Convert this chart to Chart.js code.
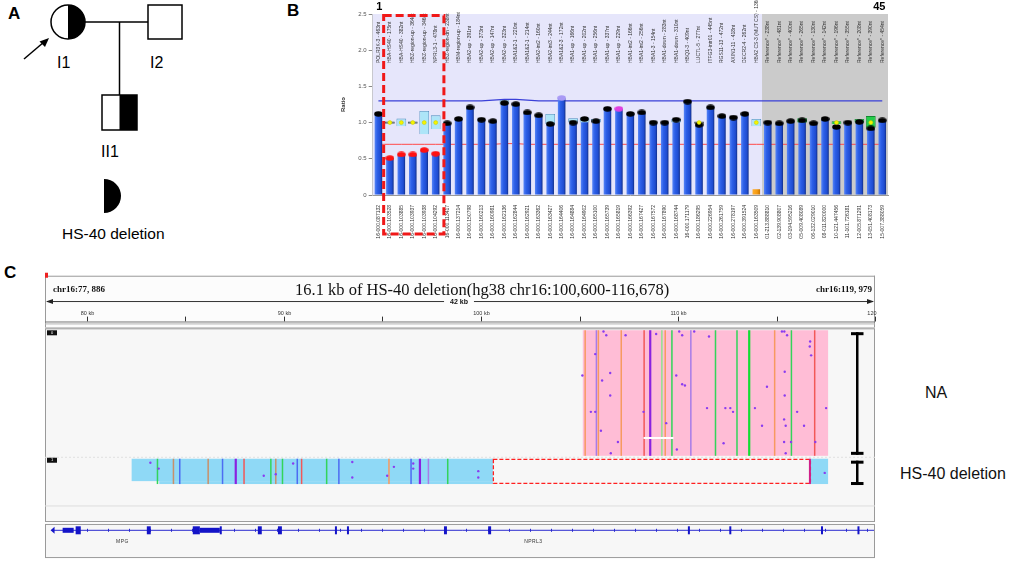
<!DOCTYPE html>
<html><head><meta charset="utf-8">
<script src="https://cdn.jsdelivr.net/npm/chart.js@4.4.1/dist/chart.umd.min.js"></script>
<style>
html,body{margin:0;padding:0;background:#fff;width:1024px;height:563px;overflow:hidden;font-family:"Liberation Sans",Arial,sans-serif;}
.abs{position:absolute;}
.panel{font-weight:bold;font-size:17px;color:#000;}
.lbl{font-size:16px;color:#111;}
</style></head><body>
<div class="abs panel" style="left:8px;top:4px">A</div>
<div class="abs panel" style="left:287px;top:1px">B</div>
<div class="abs panel" style="left:4px;top:263px">C</div>
<svg class="abs" style="left:0;top:0" width="290" height="250" font-family="Liberation Sans, Arial, sans-serif">
  <line x1="85" y1="22" x2="148" y2="22" stroke="#000" stroke-width="1.5"/>
  <line x1="119.5" y1="22" x2="119.5" y2="95" stroke="#000" stroke-width="1.5"/>
  <circle cx="68" cy="22" r="17" fill="#fff" stroke="#000" stroke-width="1.5"/>
  <path d="M68,5 A17,17 0 0,1 68,39 Z" fill="#000"/>
  <rect x="148" y="5" width="34" height="34" fill="#fff" stroke="#000" stroke-width="1.5"/>
  <rect x="102" y="95" width="35" height="35" fill="#fff" stroke="#000" stroke-width="1.5"/>
  <rect x="119.5" y="95" width="17.5" height="35" fill="#000"/>
  <line x1="24" y1="59" x2="44" y2="42" stroke="#000" stroke-width="1.5"/>
  <path d="M49,38 L39.5,41.5 L45,47 Z" fill="#000"/>
  <text x="57" y="68" font-size="16">I1</text>
  <text x="150" y="68" font-size="16">I2</text>
  <text x="101" y="157" font-size="16">II1</text>
  <path d="M104,179 A17,17 0 0,1 104,213 Z" fill="#000"/>
  <text x="62" y="239" font-size="15.5">HS-40 deletion</text>
</svg>
<canvas id="mlpa" class="abs" style="left:330px;top:0" width="570" height="240"></canvas>
<canvas id="igv" class="abs" style="left:40px;top:262px" width="840" height="301"></canvas>
<div class="abs lbl" style="left:925px;top:384px">NA</div>
<div class="abs lbl" style="left:900px;top:465px">HS-40 deletion</div>
<script>
// ---------------- Panel B data (MLPA ratios) ----------------
const probeNames = ["POLR3K-3 - 463nt","HBA-HS40 - 175nt","HBA-HS40 - 382nt","HBZ-region-up - 364nt","HBZ-region-up - 346nt","NPRL3-1 - 478nt","HBZ-region-dn - 238nt","HBM-region-up - 184nt","HBA2-up - 391nt","HBA2-up - 373nt","HBA2-up - 147nt","HBA2-up - 323nt","HBA1&2-1 - 220nt","HBA1&2-1 - 214nt","HBA2-int2 - 160nt","HBA2-int3 - 244nt","HBA1&2-3 - 172nt","HBA1-up - 166nt","HBA1-up - 202nt","HBA1-up - 256nt","HBA1-up - 337nt","HBA1-up - 229nt","HBA1-int2 - 166nt","HBA1-int2 - 256nt","HBA1-3 - 154nt","HBA1-down - 283nt","HBA1-down - 310nt","HBQ1-3 - 409nt","LUC7L-5 - 277nt","ITFG3-intr01 - 445nt","RGS11-13 - 472nt","AXIN1-11 - 418nt","DECR2-4 - 262nt","HBA2 CS-3 (MUT CS) - 136nt","Reference* - 238nt","Reference* - 481nt","Reference* - 400nt","Reference* - 265nt","Reference* - 130nt","Reference* - 142nt","Reference* - 196nt","Reference* - 355nt","Reference* - 208nt","Reference* - 390nt","Reference* - 454nt"];
const probeCoords = ["16-000.087132","16-000.103528","16-000.103885","16-000.103937","16-000.103938","16-000.104292","16-000.113417","16-000.137214","16-000.150798","16-000.160213","16-000.160981","16-000.162136","16-000.162844","16-000.162921","16-000.163362","16-000.163427","16-000.164406","16-000.164884","16-000.164902","16-000.165100","16-000.165739","16-000.165819","16-000.166392","16-000.167427","16-000.167572","16-000.167890","16-000.168744","16-000.171179","16-000.186295","16-000.226954","16-000.261759","16-000.278197","16-000.391524","16-000.163509","01-213.888810","02-139.908807","03-194.595216","05-009.408089","06-132.029010","08-011.820000","10-121.447456","11-101.726181","12-005.871291","13-051.408173","15-007.388059"];
const ratios = [1.12,0.51,0.56,0.56,0.62,0.57,0.99,1.05,1.21,1.04,1.02,1.27,1.255,1.14,1.10,0.98,1.34,1.00,1.05,1.02,1.19,1.19,1.12,1.14,1.00,1.00,1.04,1.29,0.97,1.21,1.09,1.07,1.12,0.08,1.00,0.99,1.02,1.03,0.99,1.05,0.94,1.00,1.01,0.92,1.03];
const probeFlag = ["n","del","del","del","del","del","n","n","n","n","n","n","n","n","n","n","high","n","n","n","n","mut","n","n","n","n","n","n","n","n","n","n","n","none","n","n","n","n","n","n","n","n","n","n","n"];
const upperLimit = [1.30,1.30,1.30,1.30,1.30,1.30,1.30,1.30,1.30,1.30,1.31,1.32,1.32,1.31,1.30,1.30,1.30,1.30,1.30,1.30,1.30,1.30,1.30,1.30,1.30,1.30,1.30,1.30,1.30,1.30,1.30,1.30,1.30,1.30,1.30,1.30,1.30,1.30,1.30,1.30,1.30,1.30,1.30,1.30,1.30];
const lowerLimit = [0.70,0.70,0.70,0.70,0.70,0.70,0.70,0.70,0.70,0.70,0.70,0.71,0.71,0.70,0.70,0.70,0.70,0.70,0.70,0.70,0.70,0.70,0.70,0.70,0.70,0.70,0.70,0.70,0.70,0.70,0.70,0.70,0.70,0.70,0.70,0.70,0.70,0.70,0.70,0.70,0.70,0.70,0.70,0.70,0.70];
const rangeLow  = [null,0.985,0.95,0.985,0.84,0.91,null,null,null,null,null,1.25,null,null,null,0.98,null,1.00,1.00,1.00,null,null,null,null,null,null,1.00,null,0.985,null,null,null,null,0.95,null,null,null,1.00,0.985,null,0.98,null,1.00,0.93,null];
const rangeHigh = [null,1.015,1.055,1.015,1.16,1.10,null,null,null,null,null,1.31,null,null,null,1.12,null,1.06,1.07,1.05,null,null,null,null,null,null,1.05,null,1.015,null,null,null,null,1.05,null,null,null,1.06,1.015,null,1.02,null,1.05,1.09,null];
const rangeKind = [null,"tight","sample","tight","sample","sample",null,null,null,null,null,"sample",null,null,null,"sample",null,"sample","sample","sample",null,null,null,null,null,null,"sample",null,"tight",null,null,null,null,"sample",null,null,null,"ref","tight",null,"ref",null,"ref","ref",null];
const rangeMedian = [null,1,1,1,1,1,null,null,null,null,null,null,null,null,null,null,null,null,null,null,null,null,null,null,null,null,null,null,1,null,null,null,null,1,null,null,null,null,null,null,1,null,null,1,null];
const firstProbeLabel = "1", lastProbeLabel = "45";
const referenceStart = 34;
const deletedFrom = 1, deletedTo = 5;

function capImg(color){
  const c=document.createElement('canvas'); c.width=9; c.height=6;
  const x=c.getContext('2d'); x.fillStyle=color; x.beginPath();
  x.ellipse(4.5,3,4.3,2.7,0,0,Math.PI*2); x.fill(); return c;
}
const caps = {n:capImg('#000'), del:capImg('#ff1010'), high:capImg('#a99af5'), mut:capImg('#e040e0'), none:capImg('rgba(0,0,0,0)')};
const rangeFill = {tight:'#56656b', sample:'#ade5f8', ref:'#25cc4a'};
const rangeBorder = {tight:'#3b474b', sample:'#4f8fbf', ref:'#128a30'};

const mlpaPlugin = {
  id:'mlpaDeco',
  beforeDatasetsDraw(chart){
    const {ctx, chartArea:a, scales:{x}} = chart;
    const split = (x.getPixelForValue(referenceStart-1)+x.getPixelForValue(referenceStart))/2;
    ctx.save();
    ctx.fillStyle='#e6e6fb'; ctx.fillRect(a.left,a.top,split-a.left,a.bottom-a.top);
    ctx.fillStyle='#cbcbcb'; ctx.fillRect(split,a.top,a.right-split,a.bottom-a.top);
    ctx.fillStyle='#333'; ctx.font='5px "Liberation Sans"';
    ctx.textBaseline='middle'; ctx.textAlign='left';
    probeNames.forEach((n,i)=>{
      ctx.save(); ctx.translate(x.getPixelForValue(i), a.top+49); ctx.rotate(-Math.PI/2);
      ctx.fillText(n,0,0); ctx.restore();
    });
    ctx.restore();
  },
  afterDraw(chart){
    const {ctx, chartArea:a, scales:{x}} = chart;
    const cw = x.getPixelForValue(1)-x.getPixelForValue(0);
    ctx.save();
    ctx.fillStyle='#000'; ctx.font='bold 11px "Liberation Sans"'; ctx.textAlign='center'; ctx.textBaseline='middle';
    ctx.fillText(firstProbeLabel, x.getPixelForValue(0)+1, 7);
    ctx.fillText(lastProbeLabel, x.getPixelForValue(probeNames.length-1)-3, 7);
    const l = x.getPixelForValue(deletedFrom)-cw/2-0.5, r = x.getPixelForValue(deletedTo)+cw/2+2.5;
    ctx.strokeStyle='#f01818'; ctx.lineWidth=3; ctx.setLineDash([8,4]);
    ctx.strokeRect(l, a.top+1.5, r-l, 232.5-a.top);
    ctx.restore();
  }
};

function barColor(c){
  const xs=c.chart.scales.x;
  const orange = probeFlag[c.dataIndex]==='none';
  if(!xs || c.type!=='data') return orange?'#f59a10':'#2458e6';
  const px=xs.getPixelForValue(c.dataIndex);
  if(!isFinite(px)) return orange?'#f59a10':'#2458e6';
  const g=c.chart.ctx.createLinearGradient(px-4,0,px+4,0);
  if(orange){
    g.addColorStop(0,'#ffb030'); g.addColorStop(0.6,'#f59a10'); g.addColorStop(1,'#c07000'); return g;
  }
  g.addColorStop(0,'#5a88f7'); g.addColorStop(0.35,'#2c5fe8'); g.addColorStop(0.75,'#1f4cd0'); g.addColorStop(1,'#0f2a80');
  return g;
}

new Chart(document.getElementById('mlpa'), {
  type:'bar',
  data:{
    labels: probeCoords,
    datasets:[
      {type:'line', data: rangeMedian, showLine:false, pointRadius:2, pointBackgroundColor:'#f4f400', pointBorderColor:'#c8c800', pointBorderWidth:0.5, order:0},
      {type:'line', data: ratios.map((v,i)=>probeFlag[i]==='none'?null:v), showLine:false, pointStyle: c=>caps[probeFlag[c.dataIndex]]||caps.n, pointRadius:4, order:1},
      {type:'bar', data: rangeLow.map((v,i)=>v===null?null:[v,rangeHigh[i]]), grouped:false, barPercentage:0.85, categoryPercentage:1,
        backgroundColor: c=>rangeFill[rangeKind[c.dataIndex]]||'#ade5f8', borderColor: c=>rangeBorder[rangeKind[c.dataIndex]]||'#4f8fbf', borderWidth:0.8, order:2},
      {type:'bar', data: ratios, grouped:false, barPercentage:0.66, categoryPercentage:1, backgroundColor: barColor, order:3},
      {type:'line', data: upperLimit, borderColor:'#3a40d8', borderWidth:1.2, pointRadius:0, tension:0, order:4},
      {type:'line', data: lowerLimit, borderColor:'#ff4a4a', borderWidth:1, pointRadius:0, tension:0, order:5}
    ]
  },
  options:{
    responsive:false, animation:false, events:[],
    layout:{padding:{top:14,right:12,left:10,bottom:0}},
    plugins:{legend:{display:false}, tooltip:{enabled:false}},
    scales:{
      x:{offset:true, grid:{display:false}, border:{color:'#999'},
         ticks:{autoSkip:false, minRotation:90, maxRotation:90, font:{size:5, family:'Liberation Sans'}, color:'#333', padding:2},
         afterFit(s){ s.height=45; }},
      y:{min:0, max:2.5, ticks:{stepSize:0.5, font:{size:6, family:'Liberation Sans'}, color:'#555', padding:2},
         grid:{drawOnChartArea:false, tickLength:4, color:'#888'}, border:{color:'#bbb'},
         title:{display:true, text:'Ratio', font:{size:6, weight:'bold', family:'Liberation Sans'}, color:'#333', padding:0},
         afterFit(s){ s.width=32.7; }}
    }
  },
  plugins:[mlpaPlugin]
});

// ---------------- Panel C data (IGV view, kb on chr16) ----------------
const viewStartKb = 77.886, viewEndKb = 119.979;
const viewStartLabel = "chr16:77, 886", viewEndLabel = "chr16:119, 979";
const viewTitle = "16.1 kb of HS-40 deletion(hg38 chr16:100,600-116,678)";
const spanLabel = "42 kb";
const rulerMajorKb = [80,90,100,110,120];
const rulerMajorLabel = ["80 kb","90 kb","100 kb","110 kb","120"];
const rulerMinorKb = [85,95,105,115];
const naReadsKb = [105.16,117.60];
const naGapKb = [108.24,109.76], naGapDepth = 0.85;
const naMismatchKb = [105.28,105.85,105.95,107.11,108.27,108.58,109.17,109.34,109.68,110.64,111.89,112.98,113.60,114.89,115.74,116.92];
const naMismatchBase = ["o","p","o","o","r","P","g","o","G","p","G","G","B","o","G","r"];
const naDotKb = [106.21,106.35,107.33,108.88,110.05,110.20,110.81,111.56,115.26,115.38,115.52,116.69,116.67,116.74,105.79,105.14,106.14,106.55,106.55,109.90,110.20,110.34,111.46,112.39,112.64,112.78,113.89,114.50,115.40,115.40,116.03,117.50,105.57,105.79,108.24,109.39,106.08,106.94,106.58,109.93,112.30,114.25,115.37,115.45,116.38,115.37,115.72,115.45,116.95];
const naDotDepth = [0.01,0.04,0.04,0.03,0.01,0.04,0.01,0.05,0.01,0.01,0.04,0.09,0.13,0.20,0.19,0.36,0.40,0.34,0.52,0.36,0.43,0.44,0.62,0.62,0.62,0.65,0.62,0.45,0.33,0.52,0.65,0.62,0.65,0.65,0.65,0.74,0.80,0.89,0.98,0.95,0.90,0.76,0.71,0.76,0.76,0.89,0.89,0.98,0.89];
const delReadsKb = [[82.28,100.60],[116.678,117.60]];
const deletionKb = [100.600,116.678];
const delMismatchKb = [83.59,84.40,84.72,86.16,86.89,87.56,87.98,89.34,89.59,89.93,90.68,90.90,92.17,92.79,95.33,96.45,96.90,97.33,98.31];
const delMismatchBase = ["G","t","b","t","b","P","r","G","t","G","b","r","G","b","o","b","P","p","G"];
const delDotKb = [83.23,83.65,88.98,89.59,90.47,93.47,93.47,95.58,95.24,96.56,96.56,99.86,99.86,117.43];
const delDotDepth = [0.16,0.39,0.67,0.61,0.19,0.13,0.74,0.32,0.67,0.19,0.39,0.49,0.74,0.56];
const geneNames = ["MPG","NPRL3"], geneLabelKb = [81.8,102.64];
const exonKb = [[78.78,79.34],[79.44,79.70],[83.05,83.25],[85.38,85.74],[85.74,86.75],[86.75,86.85],[88.68,88.88],[89.70,89.90],[92.59,92.69],[93.20,93.30],[98.12,98.27],[100.36,100.51],[110.49,110.56],[112.59,112.69],[117.24,117.31],[119.09,119.19]];
const exonKind = ["utr","cds","cds","cds","utr","cds","cds","cds","cds","cds","cds","cds","cds","cds","cds","cds"];
const geneStartKb = 78.22;

const baseColor = {o:'#f79a60', p:'#a77ce8', P:'#8a22e0', r:'#f25858', g:'#8fe38f', G:'#33d45a', B:'#12dd33', t:'#c8906a', b:'#4d6cf2'};
const L = {frameTop:10, headerY:24, spanY:36, rulerLbl:49, tickTop:52, rulerBase:57, sepA:59, sepB:63, alignTop:64, naTop:66, naBot:195, trackSep:196, delTop:198, delBot:224, alignLine:246, alignBot:262, geneTop:265, geneLine:271, geneLabel:283, geneBot:299};

const igvPlugin = {
  id:'igv',
  beforeDatasetsDraw(chart){
    const {ctx, chartArea:a, scales:{x,y}} = chart;
    const X=v=>x.getPixelForValue(v), Y=v=>y.getPixelForValue(v);
    const l=a.left, r=a.right;
    ctx.save();
    ctx.fillStyle='#fcfcfc'; ctx.fillRect(l,Y(L.frameTop),r-l,Y(L.sepB)-Y(L.frameTop));
    ctx.strokeStyle='#9a9a9a'; ctx.lineWidth=1;
    ctx.beginPath(); ctx.moveTo(l,Y(L.frameTop)+0.5); ctx.lineTo(r,Y(L.frameTop)+0.5);
    ctx.moveTo(l+0.5,Y(L.frameTop)); ctx.lineTo(l+0.5,Y(L.sepB)); ctx.moveTo(r-0.5,Y(L.frameTop)); ctx.lineTo(r-0.5,Y(L.sepB)); ctx.stroke();
    ctx.strokeStyle='#b5b5b5';
    ctx.beginPath(); ctx.moveTo(l,Y(L.sepA)+0.5); ctx.lineTo(r,Y(L.sepA)+0.5); ctx.moveTo(l,Y(L.sepB)+0.5); ctx.lineTo(r,Y(L.sepB)+0.5); ctx.stroke();
    ctx.fillStyle='#ee2020'; ctx.fillRect(l,Y(L.frameTop)-3,3,5);
    ctx.fillStyle='#111'; ctx.textBaseline='middle';
    ctx.font='bold 9px "Liberation Serif"'; ctx.textAlign='left'; ctx.fillText(viewStartLabel,l+8,Y(L.headerY));
    ctx.textAlign='right'; ctx.fillText(viewEndLabel,r-3,Y(L.headerY));
    ctx.font='16.5px "Liberation Serif"'; ctx.textAlign='left'; ctx.fillText(viewTitle,l+250,Y(L.headerY)+1);
    ctx.strokeStyle='#333'; ctx.lineWidth=1;
    ctx.beginPath(); ctx.moveTo(l+2,Y(L.spanY)+0.5); ctx.lineTo(r-2,Y(L.spanY)+0.5); ctx.stroke();
    ctx.fillStyle='#222';
    ctx.beginPath(); ctx.moveTo(l+1,Y(L.spanY)+0.5); ctx.lineTo(l+8,Y(L.spanY)-2); ctx.lineTo(l+8,Y(L.spanY)+3); ctx.fill();
    ctx.beginPath(); ctx.moveTo(r-1,Y(L.spanY)+0.5); ctx.lineTo(r-8,Y(L.spanY)-2); ctx.lineTo(r-8,Y(L.spanY)+3); ctx.fill();
    ctx.font='bold 7px "Liberation Sans"'; ctx.textAlign='center';
    const sx=X((viewStartKb+viewEndKb)/2)-1; const tw=ctx.measureText(spanLabel).width+12;
    ctx.fillStyle='#fcfcfc'; ctx.fillRect(sx-tw/2,Y(L.spanY)-4,tw,9);
    ctx.fillStyle='#111'; ctx.fillText(spanLabel,sx,Y(L.spanY)+1);
    ctx.font='5.5px "Liberation Sans"'; ctx.fillStyle='#333'; ctx.strokeStyle='#333';
    rulerMajorKb.forEach((k,i)=>{ const px=Math.round(X(k))+0.5; const last=i===rulerMajorKb.length-1; ctx.textAlign = last?'right':'center'; ctx.fillText(rulerMajorLabel[i], last?px+1:px, Y(L.rulerLbl));
      ctx.beginPath(); ctx.moveTo(px,Y(L.tickTop)); ctx.lineTo(px,Y(L.rulerBase)); ctx.stroke(); });
    rulerMinorKb.forEach(k=>{ const px=Math.round(X(k))+0.5; ctx.beginPath(); ctx.moveTo(px,Y(L.tickTop)); ctx.lineTo(px,Y(L.rulerBase)); ctx.stroke(); });
    ctx.strokeStyle='#777'; ctx.beginPath(); ctx.moveTo(l,Y(L.rulerBase)+0.5); ctx.lineTo(r,Y(L.rulerBase)+0.5); ctx.stroke();
    ctx.fillStyle='#f7f7f7'; ctx.fillRect(l,Y(L.alignTop),r-l,Y(L.alignBot)-Y(L.alignTop));
    ctx.strokeStyle='#9a9a9a'; ctx.strokeRect(l+0.5,Y(L.alignTop)+0.5,r-l-1,Y(L.alignBot)-Y(L.alignTop));
    ctx.strokeStyle='#dedede'; ctx.beginPath(); ctx.moveTo(l,Y(L.alignLine)+0.5); ctx.lineTo(r,Y(L.alignLine)+0.5); ctx.stroke();
    ctx.setLineDash([2,2]); ctx.strokeStyle='#e0e0e0'; ctx.beginPath(); ctx.moveTo(l,Y(L.trackSep)+0.5); ctx.lineTo(r,Y(L.trackSep)+0.5); ctx.stroke(); ctx.setLineDash([]);
    ctx.fillStyle='#ffbdd6'; ctx.fillRect(X(naReadsKb[0]),Y(L.naTop),X(naReadsKb[1])-X(naReadsKb[0]),Y(L.naBot)-Y(L.naTop));
    naMismatchKb.forEach((k,i)=>{ const b=naMismatchBase[i]; ctx.fillStyle=baseColor[b]; const w=(b==='P'||b==='B')?2.2:1.5; ctx.fillRect(X(k)-w/2,Y(L.naTop),w,Y(L.naBot)-Y(L.naTop)); });
    ctx.fillStyle='#ffffff'; const gy=Y(L.naTop)+naGapDepth*(Y(L.naBot)-Y(L.naTop)); ctx.fillRect(X(naGapKb[0]),gy,X(naGapKb[1])-X(naGapKb[0]),2);
    ctx.fillStyle='#8fd9f6';
    delReadsKb.forEach(([s,e],i)=>{ if(i===0){ ctx.fillRect(X(s),Y(L.delTop),X(e)-X(s),Y(L.delBot-3)-Y(L.delTop)); ctx.fillRect(X(s+1.4),Y(L.delBot-3),X(e)-X(s+1.4),Y(L.delBot)-Y(L.delBot-3)); } else ctx.fillRect(X(s),Y(L.delTop),X(e)-X(s),Y(L.delBot)-Y(L.delTop)); });
    delMismatchKb.forEach((k,i)=>{ const b=delMismatchBase[i]; ctx.fillStyle=baseColor[b]; const w=(b==='P')?2.2:1.5; ctx.fillRect(X(k)-w/2,Y(L.delTop),w,Y(L.delBot)-Y(L.delTop)); });
    ctx.strokeStyle='#ff2020'; ctx.lineWidth=1.3; ctx.setLineDash([4,2]);
    ctx.strokeRect(X(deletionKb[0])+0.5,Y(L.delTop)+0.7,X(deletionKb[1])-X(deletionKb[0]),Y(L.delBot)-Y(L.delTop)-1.4);
    ctx.setLineDash([]); ctx.fillStyle='#d0208a'; ctx.fillRect(X(deletionKb[1])-1,Y(L.delTop),2,Y(L.delBot)-Y(L.delTop));
    ctx.fillStyle='#111'; ctx.fillRect(l+2,Y(L.alignTop)+2,10,5); ctx.fillRect(l+2,Y(L.delTop)-1,10,5);
    ctx.fillStyle='#fff'; ctx.font='4px "Liberation Sans"'; ctx.textAlign='center';
    ctx.fillText('0',l+7,Y(L.alignTop)+4.6); ctx.fillText('1',l+7,Y(L.delTop)+1.6);
    ctx.fillStyle='#f7f7f7'; ctx.fillRect(l,Y(L.geneTop),r-l,Y(L.geneBot)-Y(L.geneTop));
    ctx.strokeStyle='#9a9a9a'; ctx.lineWidth=1; ctx.strokeRect(l+0.5,Y(L.geneTop)+0.5,r-l-1,Y(L.geneBot)-Y(L.geneTop));
    ctx.strokeStyle='#2a2ad0'; ctx.lineWidth=1;
    ctx.beginPath(); ctx.moveTo(X(geneStartKb),Y(L.geneLine)+0.5); ctx.lineTo(r-1,Y(L.geneLine)+0.5); ctx.stroke();
    for(let k=80; k<120; k+=1.07){ const px=Math.round(X(k))+0.5; ctx.beginPath(); ctx.moveTo(px,Y(L.geneLine)-1); ctx.lineTo(px,Y(L.geneLine)+2); ctx.stroke(); }
    ctx.fillStyle='#1414c8';
    ctx.beginPath(); ctx.moveTo(X(geneStartKb)-1,Y(L.geneLine)+0.5); ctx.lineTo(X(geneStartKb)+3,Y(L.geneLine)-3); ctx.lineTo(X(geneStartKb)+3,Y(L.geneLine)+4); ctx.fill();
    exonKb.forEach(([s,e],i)=>{ const h=exonKind[i]==='utr'?5:8; ctx.fillRect(X(s),Y(L.geneLine)+0.5-h/2,Math.max(2,X(e)-X(s)),h); });
    ctx.fillStyle='#333'; ctx.font='5px "Liberation Sans"'; ctx.textAlign='center';
    geneNames.forEach((g,i)=>{ ctx.fillText(g.split('').join(String.fromCharCode(8202)),X(geneLabelKb[i]),Y(L.geneLabel)); });
    ctx.restore();
  },
  afterDatasetsDraw(chart){
    const {ctx, chartArea:a, scales:{y}} = chart;
    const Y=v=>y.getPixelForValue(v);
    const bx=a.right-18;
    ctx.save(); ctx.fillStyle='#000';
    const ibar=(t,b)=>{ ctx.fillRect(bx-1,t,2.5,b-t); ctx.fillRect(bx-6,t,12.5,3); ctx.fillRect(bx-6,b-3,12.5,3); };
    ibar(Y(L.naTop+2),Y(L.naBot-1)); ibar(Y(L.delTop+2),Y(L.delBot+1));
    ctx.restore();
  }
};

new Chart(document.getElementById('igv'), {
  type:'scatter',
  data:{datasets:[
    {data: naDotKb.map((k,i)=>({x:k, y:L.naTop+naDotDepth[i]*(L.naBot-L.naTop)})), pointRadius:1.2, pointBackgroundColor:'#8a3cf0', pointBorderWidth:0},
    {data: delDotKb.map((k,i)=>({x:k, y:L.delTop+delDotDepth[i]*(L.delBot-L.delTop)})), pointRadius:1.2, pointBackgroundColor:'#8a3cf0', pointBorderWidth:0}
  ]},
  options:{
    responsive:false, animation:false, events:[],
    layout:{padding:{left:5,right:5,top:0,bottom:0}},
    plugins:{legend:{display:false}, tooltip:{enabled:false}},
    scales:{ x:{type:'linear', min:viewStartKb, max:viewEndKb, display:false},
             y:{type:'linear', min:0, max:301, reverse:true, display:false} }
  },
  plugins:[igvPlugin]
});
</script>
</body></html>
